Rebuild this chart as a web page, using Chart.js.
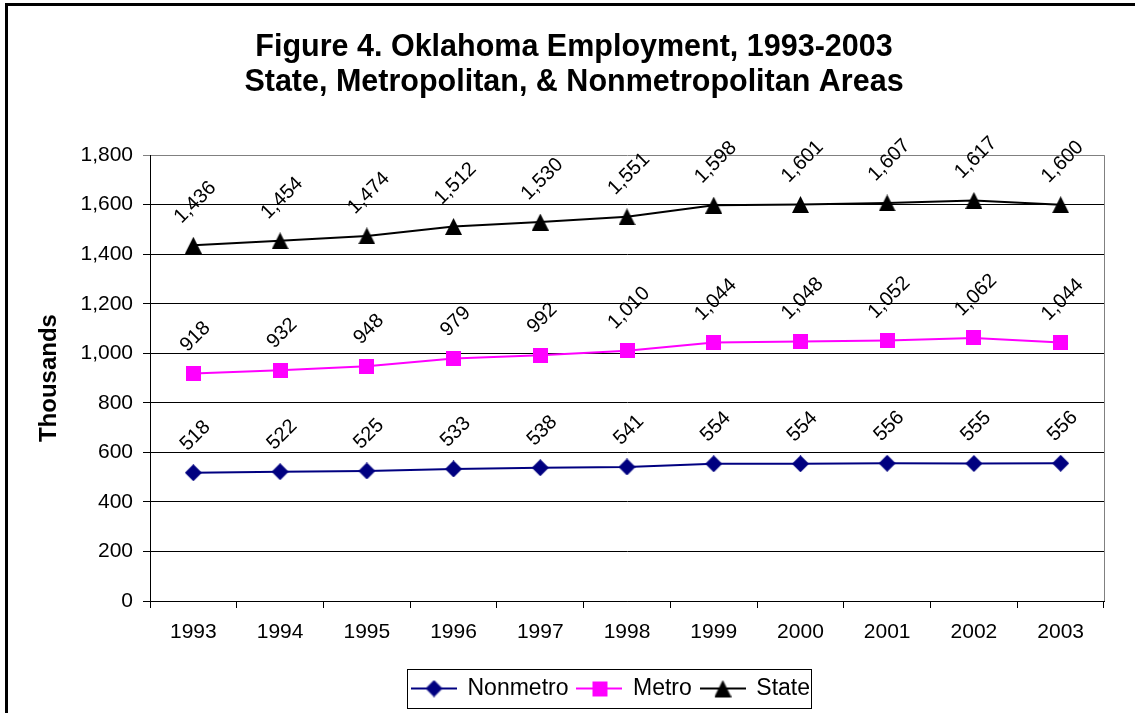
<!DOCTYPE html>
<html lang="en">

<head>
    <meta charset="UTF-8">
    <title>Oklahoma Employment, 1993-2003</title>
    <script src="https://cdn.jsdelivr.net/npm/chart.js@4.4.0/dist/chart.umd.min.js"></script>
    <style>
        body { margin: 0; overflow: hidden; background: #fff; }
        #wrap { position: relative; width: 1135px; height: 713px; }
        #frame { position: absolute; left: 5px; top: 3px; width: 1200px; height: 800px;
                 border-left: 3px solid #000; border-top: 3px solid #000; pointer-events: none; }
    </style>
</head>

<body>
    <div id="wrap">
        <canvas id="chart"></canvas>
        <div id="frame"></div>
    </div>
    <script>
        const years = ['1993', '1994', '1995', '1996', '1997', '1998', '1999', '2000', '2001', '2002', '2003'];
        const nonmetro = [518, 522, 525, 533, 538, 541, 554, 554, 556, 555, 556];
        const metro = [918, 932, 948, 979, 992, 1010, 1044, 1048, 1052, 1062, 1044];
        const state = [1436, 1454, 1474, 1512, 1530, 1551, 1598, 1601, 1607, 1617, 1600];
        const titleLines = ['Figure 4. Oklahoma Employment, 1993-2003', 'State, Metropolitan, & Nonmetropolitan Areas'];

        const FONT = "'Liberation Sans', Arial, sans-serif";

        // marker images so the shapes sit centred on the value like the original
        const marker = (shape, color, size) => {
            const c = document.createElement('canvas');
            c.width = size; c.height = size;
            const g = c.getContext('2d');
            g.fillStyle = color;
            g.beginPath();
            if (shape === 'diamond') {
                g.moveTo(size / 2, 0); g.lineTo(size, size / 2); g.lineTo(size / 2, size); g.lineTo(0, size / 2);
            } else if (shape === 'square') {
                g.rect(0, 0, size, size);
            } else {
                g.moveTo(size / 2, 0); g.lineTo(size, size); g.lineTo(0, size);
            }
            g.closePath();
            g.fill();
            return c;
        };
        const legendIcon = (img, color) => {
            const c = document.createElement('canvas');
            c.width = 46; c.height = 20;
            const g = c.getContext('2d');
            g.strokeStyle = color;
            g.lineWidth = 2;
            g.beginPath(); g.moveTo(0, 10); g.lineTo(46, 10); g.stroke();
            g.drawImage(img, 23 - img.width / 2, 10 - img.height / 2);
            return c;
        };

        const mDiamond = marker('diamond', '#000080', 17),
            mSquare = marker('square', '#ff00ff', 15),
            mTriangle = marker('triangle', '#000000', 17);
        const icons = [legendIcon(mDiamond, '#000080'), legendIcon(mSquare, '#ff00ff'), legendIcon(mTriangle, '#000000')];

        const labelsPlugin = {
            id: 'valueLabels',
            afterLayout(chart) {
                // the original has legend and title a little right of centre
                const lg = chart.legend;
                const d = 611 - (lg.left + lg.right) / 2;
                lg.left += d; lg.right += d;
                const tb = chart.titleBlock;
                const t = 574 - (tb.left + tb.right) / 2;
                tb.left += t; tb.right += t;
            },
            beforeDatasetsDraw(chart) {
                const { ctx, chartArea: a } = chart;
                ctx.save();
                ctx.strokeStyle = '#808080';
                ctx.lineWidth = 1;
                ctx.beginPath();
                ctx.moveTo(Math.round(a.right) + 0.5, a.top);
                ctx.lineTo(Math.round(a.right) + 0.5, a.bottom);
                ctx.stroke();
                ctx.restore();
            },
            afterDatasetsDraw(chart) {
                const ctx = chart.ctx;
                ctx.save();
                ctx.font = '20px ' + FONT;
                ctx.fillStyle = '#000';
                ctx.textAlign = 'center';
                ctx.textBaseline = 'middle';
                chart.data.datasets.forEach((ds, i) => {
                    chart.getDatasetMeta(i).data.forEach((pt, j) => {
                        const txt = ds.data[j].toLocaleString('en-US');
                        const w = ctx.measureText(txt).width;
                        const off = 18 + (w + 20) * 0.354;
                        ctx.save();
                        ctx.translate(pt.x + 2, pt.y - off);
                        ctx.rotate(-Math.PI / 4);
                        ctx.fillText(txt, 0, 0);
                        ctx.restore();
                    });
                });
                ctx.restore();
            },
            afterDraw(chart) {
                const hb = chart.legend.legendHitBoxes;
                if (!hb || !hb.length) return;
                const ctx = chart.ctx;
                const last = hb[hb.length - 1];
                const yc = hb[0].top + hb[0].height / 2;
                const x0 = Math.round(hb[0].left - 5) + 0.5,
                    x1 = Math.round(last.left + last.width + 1) + 0.5;
                ctx.save();
                ctx.strokeStyle = '#000';
                ctx.lineWidth = 1;
                ctx.strokeRect(x0, Math.round(yc - 20) + 0.5, x1 - x0, 39);
                ctx.restore();
            }
        };

        const ctx = document.getElementById('chart').getContext('2d');
        new Chart(ctx, {
            type: 'line',
            data: {
                labels: years,
                datasets: [{
                    label: 'Nonmetro',
                    data: nonmetro,
                    borderColor: '#000080',
                    backgroundColor: '#000080',
                    borderWidth: 2,
                    pointStyle: mDiamond,
                    pointRadius: 9
                }, {
                    label: 'Metro',
                    data: metro,
                    borderColor: '#ff00ff',
                    backgroundColor: '#ff00ff',
                    borderWidth: 2,
                    pointStyle: mSquare,
                    pointRadius: 9
                }, {
                    label: 'State',
                    data: state,
                    borderColor: '#000000',
                    backgroundColor: '#000000',
                    borderWidth: 2,
                    pointStyle: mTriangle,
                    pointRadius: 9
                }]
            },
            options: {
                responsive: true,
                maintainAspectRatio: false,
                animation: false,
                layout: { padding: { left: 10, right: 31, top: 0, bottom: 3 } },
                plugins: {
                    title: {
                        display: true,
                        text: titleLines,
                        color: '#000',
                        font: { family: FONT, size: 30.5, weight: 'bold', lineHeight: 1.15 },
                        padding: { top: 30, bottom: 55 }
                    },
                    legend: {
                        position: 'bottom',
                        labels: {
                            usePointStyle: true,
                            pointStyleWidth: 44,
                            padding: 9,
                            color: '#000',
                            font: { family: FONT, size: 23 },
                            generateLabels(chart) {
                                const items = Chart.defaults.plugins.legend.labels.generateLabels(chart);
                                items.forEach((it, i) => { it.pointStyle = icons[i]; it.rotation = 0; });
                                return items;
                            }
                        }
                    },
                    tooltip: { enabled: false }
                },
                scales: {
                    x: {
                        offset: true,
                        afterFit(scale) { scale.height = 67; },
                        grid: { offset: true, drawOnChartArea: false, drawTicks: true, tickLength: 7, color: '#000' },
                        border: { color: '#000', width: 1 },
                        ticks: { color: '#000', padding: 12, maxRotation: 0, font: { family: FONT, size: 21 } }
                    },
                    y: {
                        min: 0,
                        max: 1800,
                        afterFit(scale) { scale.width = 140; },
                        title: {
                            display: true,
                            text: 'Thousands',
                            color: '#000',
                            font: { family: FONT, size: 24, weight: 'bold' },
                            padding: { top: 25, bottom: 0 }
                        },
                        grid: {
                            color: c => (c.tick && c.tick.value === 1800 ? '#808080' : '#000'),
                            tickLength: 7
                        },
                        border: { color: '#000', width: 1 },
                        ticks: {
                            stepSize: 200,
                            color: '#000',
                            padding: 10,
                            font: { family: FONT, size: 21 },
                            callback: v => v.toLocaleString('en-US')
                        }
                    }
                }
            },
            plugins: [labelsPlugin]
        });
    </script>
</body>

</html>
